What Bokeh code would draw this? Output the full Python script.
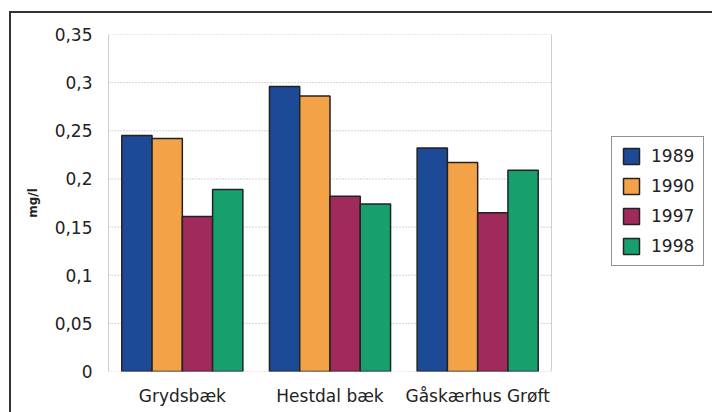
from bokeh.plotting import figure
from bokeh.models import (Range1d, FixedTicker, Legend, LegendItem, ColumnDataSource)
from bokeh.transform import dodge
from bokeh.embed import file_html
from bokeh.resources import INLINE

categories = ["Grydsbæk", "Hestdal bæk", "Gåskærhus Grøft"]
years = ["1989", "1990", "1997", "1998"]
v1989 = [0.245, 0.296, 0.232]
v1990 = [0.242, 0.286, 0.217]
v1997 = [0.161, 0.182, 0.165]
v1998 = [0.189, 0.174, 0.209]
y_ticks = [0, 0.05, 0.1, 0.15, 0.2, 0.25, 0.3, 0.35]
y_tick_labels = ["0", "0,05", "0,1", "0,15", "0,2", "0,25", "0,3", "0,35"]
y_label = "mg/l"

colors = ["#1d4a97", "#f4a247", "#a02a5c", "#17a06d"]
offsets = [-0.3075, -0.1025, 0.1025, 0.3075]
bar_width = 0.205
FONT = "DejaVu Sans"

n = len(categories)
xpos = [i + 0.5 for i in range(n)]
src = ColumnDataSource(data=dict(x=xpos, y1989=v1989, y1990=v1990,
                                 y1997=v1997, y1998=v1998))

# plot area is 443 px wide inside a 604 px frame (legend sits to the right)
x_end = n * 604 / 443
p = figure(x_range=Range1d(0, x_end), y_range=Range1d(0, 0.35),
           width=712, height=412, output_backend="svg", toolbar_location=None,
           min_border_left=108, min_border_right=0, min_border_top=34,
           min_border_bottom=41, background_fill_color="white",
           border_fill_color=None)

# outer picture frame (top and left edges visible)
p.styles = {
    "background-color": "white",
    "background-image": "linear-gradient(#333333, #333333), linear-gradient(#333333, #333333)",
    "background-size": "2px 100%, 100% 2px",
    "background-position": "9px 11px, 9px 11px",
    "background-repeat": "no-repeat",
}
p.outline_line_color = None
p.xgrid.grid_line_color = None
p.ygrid.grid_line_color = None

# dotted gridlines and right edge of the plot area
p.segment(x0=0, x1=n, y0=y_ticks, y1=y_ticks, line_color="#a8a8a8",
          line_dash="1 2", line_width=1)
p.segment(x0=n, x1=n, y0=y_ticks[0], y1=y_ticks[-1], line_color="#cfcfcf",
          line_width=1)

items = []
for yr, col, off in zip(years, colors, offsets):
    r = p.vbar(x=dodge("x", off), top="y" + yr, width=bar_width,
               source=src, fill_color=col, line_color="#222222", line_width=1.5)
    items.append(LegendItem(label=yr, renderers=[r]))

legend = Legend(items=items, location=(503, 105),
                glyph_width=20, glyph_height=20, label_height=20,
                spacing=10, padding=9, label_standoff=10,
                label_text_font=FONT, label_text_font_size="17px",
                label_text_color="#222222",
                border_line_color="#222222", border_line_width=1.5,
                background_fill_color="white")
p.add_layout(legend)

ya = p.yaxis[0]
ya.ticker = FixedTicker(ticks=y_ticks)
ya.major_label_overrides = {t: l for t, l in zip(y_ticks, y_tick_labels)}
ya.axis_line_color = "#cfcfcf"
ya.major_tick_line_color = None
ya.minor_tick_line_color = None
ya.major_tick_out = 0
ya.major_tick_in = 0
ya.major_label_standoff = 16
ya.major_label_text_font = FONT
ya.major_label_text_font_size = "17px"
ya.major_label_text_color = "#222222"
ya.axis_label = y_label
ya.axis_label_text_font = FONT
ya.axis_label_text_font_size = "12px"
ya.axis_label_text_font_style = "bold"
ya.axis_label_text_color = "#222222"
ya.axis_label_standoff = 12

xa = p.xaxis[0]
xa.ticker = FixedTicker(ticks=xpos)
xa.major_label_overrides = {x: c for x, c in zip(xpos, categories)}
xa.axis_line_color = None
xa.major_tick_line_color = None
xa.minor_tick_line_color = None
xa.major_tick_out = 0
xa.major_tick_in = 0
xa.major_label_standoff = 14
xa.major_label_text_font = FONT
xa.major_label_text_font_size = "17px"
xa.major_label_text_color = "#222222"

open("out.html", "w").write(file_html(p, INLINE))
